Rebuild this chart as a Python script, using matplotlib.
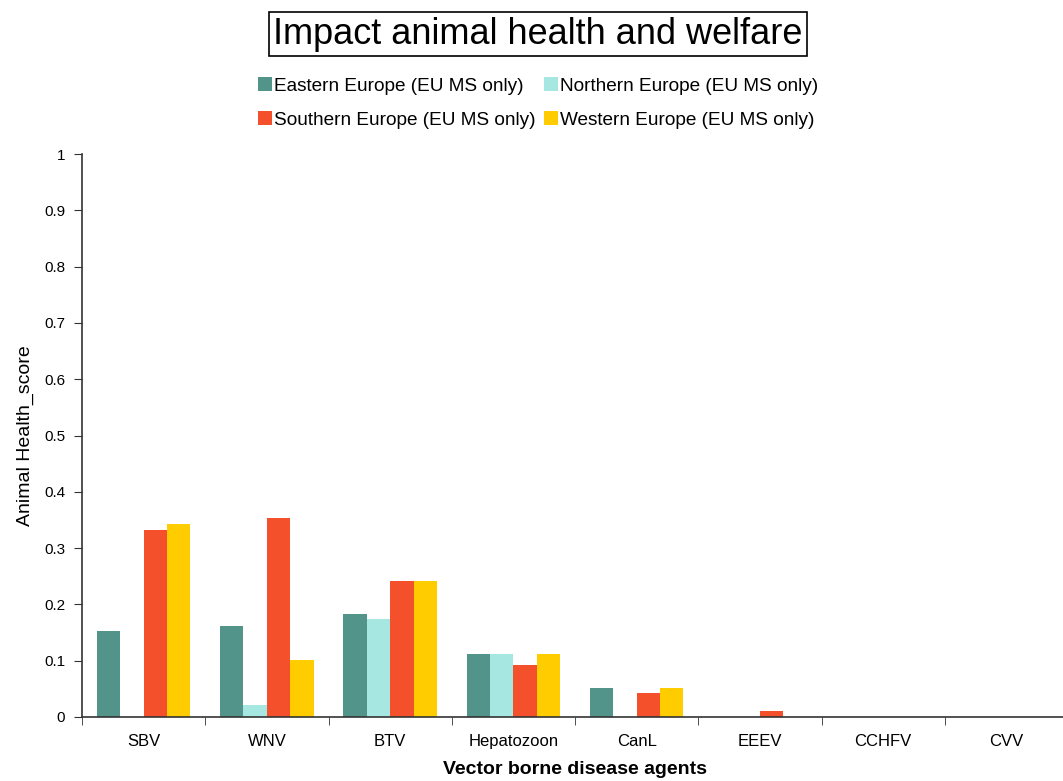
import matplotlib
matplotlib.use("Agg")
import matplotlib.pyplot as plt
import numpy as np

plt.rcParams['font.family'] = ['Liberation Sans', 'DejaVu Sans']

categories = ["SBV", "WNV", "BTV", "Hepatozoon", "CanL", "EEEV", "CCHFV", "CVV"]
series_names = ["Eastern Europe (EU MS only)", "Northern Europe (EU MS only)",
                "Southern Europe (EU MS only)", "Western Europe (EU MS only)"]
eastern = [0.153, 0.162, 0.183, 0.112, 0.052, 0.0, 0.0, 0.0]
northern = [0.0, 0.021, 0.174, 0.112, 0.0, 0.0, 0.0, 0.0]
southern = [0.332, 0.353, 0.242, 0.092, 0.042, 0.011, 0.0, 0.0]
western = [0.343, 0.102, 0.242, 0.112, 0.052, 0.0, 0.0, 0.0]
colors = ["#52938A", "#A6E8E1", "#F5502C", "#FFCC00"]
yticks = [0, 0.1, 0.2, 0.3, 0.4, 0.5, 0.6, 0.7, 0.8, 0.9, 1]
ytick_labels = ["0", "0.1", "0.2", "0.3", "0.4", "0.5", "0.6", "0.7", "0.8", "0.9", "1"]

W, H = 1063, 781
fig = plt.figure(figsize=(W / 100, H / 100), dpi=100)
ax_left = 82 / W
ax_bottom = (H - 717) / H
ax_height = (717 - 154) / H
ax_width = 986 / W
ax = fig.add_axes([ax_left, ax_bottom, ax_width, ax_height])

x = np.arange(len(categories))
bw = 0.19
all_series = [eastern, northern, southern, western]
handles = []
for i, (vals, c, name) in enumerate(zip(all_series, colors, series_names)):
    b = ax.bar(x + (i - 1.5) * bw, vals, width=bw, color=c, label=name, zorder=2)
    handles.append(b)

ax.set_xlim(-0.5, len(categories) - 0.5)
ax.set_ylim(0, 1)
ax.set_yticks(yticks)
ax.set_yticklabels(ytick_labels, fontsize=11)
ax.set_xticks(x)
ax.set_xticklabels(categories, fontsize=12)
ax.tick_params(axis='x', which='major', length=0, pad=12)
ax.set_xticks(np.arange(len(categories) + 1) - 0.5, minor=True)
ax.tick_params(axis='x', which='minor', length=6, direction='out', color='#333333')
ax.tick_params(axis='y', length=6, direction='out', color='#333333', pad=6)
for s in ['top', 'right']:
    ax.spines[s].set_visible(False)
for s in ['left', 'bottom']:
    ax.spines[s].set_color('#333333')
    ax.spines[s].set_linewidth(1.2)

ax.set_ylabel("Animal Health_score", fontsize=14, labelpad=7)
fig.text(575 / W, 1 - 769 / H, "Vector borne disease agents", fontsize=14,
         fontweight='bold', ha='center', va='center')

fig.text(538 / W, 1 - 34 / H, "Impact animal health and welfare", fontsize=26,
         ha='center', va='center',
         bbox=dict(boxstyle='square,pad=0.12', facecolor='white', edgecolor='black', linewidth=1.2))

order = [0, 2, 1, 3]
leg = fig.legend([handles[k] for k in order], [series_names[k] for k in order],
                 loc='center', bbox_to_anchor=(538 / W, 1 - 103 / H), ncol=2,
                 frameon=False, fontsize=13.7, handlelength=0.75, handleheight=0.75,
                 handletextpad=0.1, columnspacing=0.45, labelspacing=0.85)

fig.savefig("out.png", dpi=100)
